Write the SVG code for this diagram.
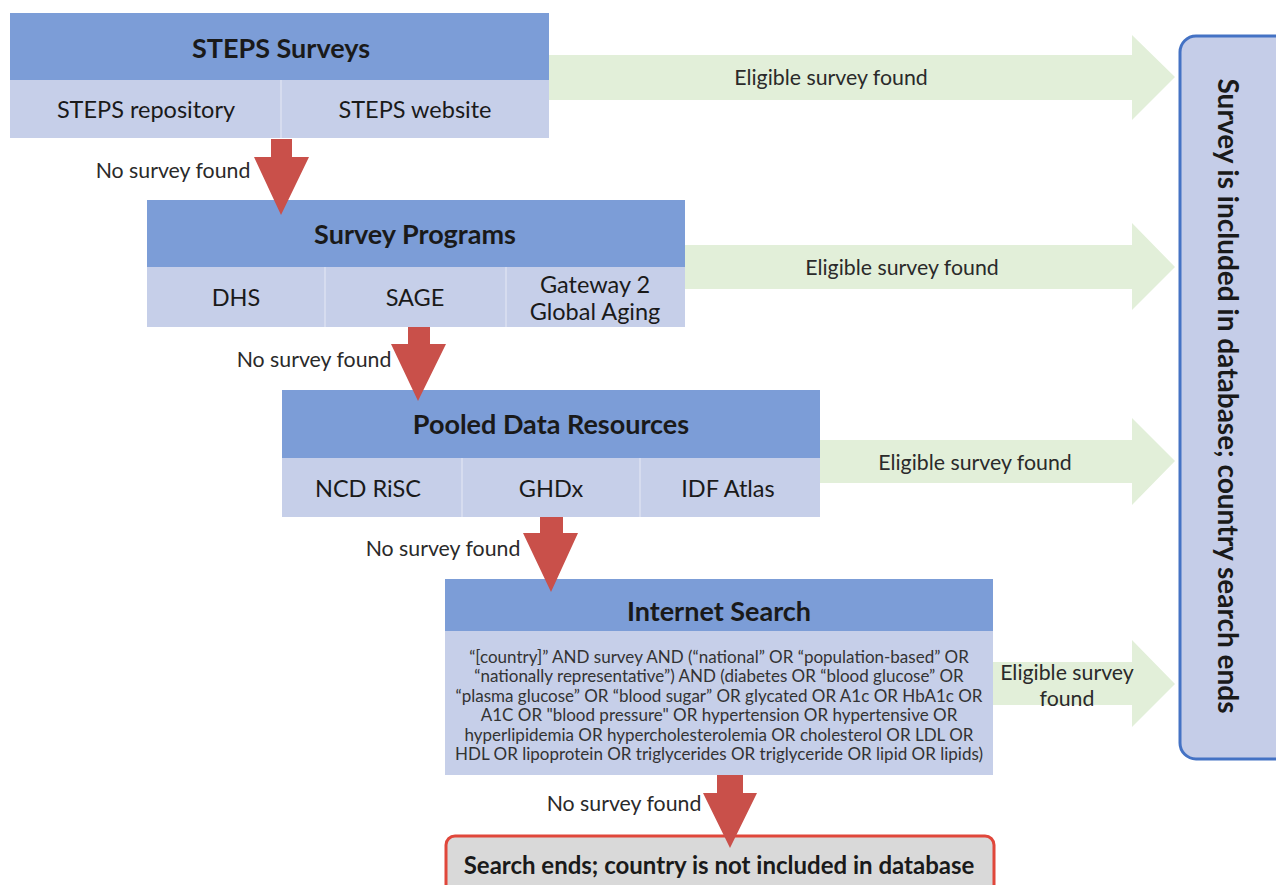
<svg xmlns="http://www.w3.org/2000/svg" width="1276" height="885" viewBox="0 0 1276 885">
<style>
.hdr{fill:#7c9dd7}
.sub{fill:#c6cfe9}
.div{stroke:#d6dcef;stroke-width:2}
.green{fill:#e2efd9}
.red{fill:#c9504a}
text{font-family:Lato,"Liberation Sans",sans-serif;fill:#1a1a1a;text-anchor:middle;dominant-baseline:central}
.ht{font-size:27px;font-weight:bold}
.st{font-size:23.5px}
.lbl{font-size:21.3px;fill:#2a2a2a}
.body{font-size:17px;fill:#333}
.end{font-size:24px;font-weight:bold}
.incl{font-size:28px;font-weight:bold}
</style>
<rect width="1276" height="885" fill="#ffffff"/>
<g id="steps-surveys">
<rect class="hdr" x="10" y="13" width="539" height="67"/>
<rect class="sub" x="10" y="80" width="539" height="58"/>
<line class="div" x1="281" y1="80" x2="281" y2="138"/>
<text class="ht" x="281" y="47">STEPS Surveys</text>
<text class="st" x="146" y="109">STEPS repository</text>
<text class="st" x="415" y="109">STEPS website</text>
</g>
<g id="survey-programs">
<rect class="hdr" x="147" y="200" width="538" height="67"/>
<rect class="sub" x="147" y="267" width="538" height="60"/>
<line class="div" x1="325" y1="267" x2="325" y2="327"/>
<line class="div" x1="506" y1="267" x2="506" y2="327"/>
<text class="ht" x="415" y="233">Survey Programs</text>
<text class="st" x="236" y="297">DHS</text>
<text class="st" x="415" y="297">SAGE</text>
<text class="st" x="595" y="284">Gateway 2</text>
<text class="st" x="595" y="311">Global Aging</text>
</g>
<g id="pooled-data">
<rect class="hdr" x="282" y="390" width="538" height="68"/>
<rect class="sub" x="282" y="458" width="538" height="59"/>
<line class="div" x1="462" y1="458" x2="462" y2="517"/>
<line class="div" x1="640" y1="458" x2="640" y2="517"/>
<text class="ht" x="551" y="423">Pooled Data Resources</text>
<text class="st" x="368" y="488">NCD RiSC</text>
<text class="st" x="551" y="488">GHDx</text>
<text class="st" x="728" y="488">IDF Atlas</text>
</g>
<g id="internet-search">
<rect class="hdr" x="445" y="579" width="548" height="52"/>
<rect class="sub" x="445" y="631" width="548" height="144"/>
<text class="ht" x="719" y="610">Internet Search</text>
<text class="body" x="719" y="656">“[country]” AND survey AND (“national” OR “population-based” OR</text>
<text class="body" x="719" y="675">“nationally representative”) AND (diabetes OR “blood glucose” OR</text>
<text class="body" x="719" y="695">“plasma glucose” OR “blood sugar” OR glycated OR A1c OR HbA1c OR</text>
<text class="body" x="719" y="714">A1C OR "blood pressure" OR hypertension OR hypertensive OR</text>
<text class="body" x="719" y="734">hyperlipidemia OR hypercholesterolemia OR cholesterol OR LDL OR</text>
<text class="body" x="719" y="753">HDL OR lipoprotein OR triglycerides OR triglyceride OR lipid OR lipids)</text>
</g>
<g id="search-ends">
<rect x="446" y="836" width="548" height="70" rx="9" fill="#d9d9d9" stroke="#e0473b" stroke-width="3"/>
<text class="end" x="719" y="864">Search ends; country is not included in database</text>
</g>
<g id="included">
<rect x="1180" y="36" width="120" height="723" rx="16" fill="#c5cde8" stroke="#4472c4" stroke-width="3"/>
<text class="incl" transform="translate(1229,396) rotate(90)">Survey is included in database; country search ends</text>
</g>
<g id="connectors">
<polygon class="green" points="549,55 1132,55 1132,35 1175,77 1132,120 1132,100 549,100"/>
<text class="lbl" x="831" y="77">Eligible survey found</text>
<polygon class="green" points="685,245 1132,245 1132,223 1175,267 1132,310 1132,289 685,289"/>
<text class="lbl" x="902" y="267">Eligible survey found</text>
<polygon class="green" points="820,440 1132,440 1132,418 1175,461 1132,505 1132,483 820,483"/>
<text class="lbl" x="975" y="462">Eligible survey found</text>
<polygon class="green" points="993,662 1132,662 1132,640 1175,684 1132,727 1132,705 993,705"/>
<text class="lbl" x="1067" y="672">Eligible survey</text>
<text class="lbl" x="1067" y="698">found</text>
<polygon class="red" points="271,139 292,139 292,157 309,157 281,215 254,157 271,157"/>
<text class="lbl" x="173" y="170">No survey found</text>
<polygon class="red" points="408,327 430,327 430,344 446,344 418,401 391,344 408,344"/>
<text class="lbl" x="314" y="359">No survey found</text>
<polygon class="red" points="540,517 563,517 563,533 578,533 551,592 523,533 540,533"/>
<text class="lbl" x="443" y="548">No survey found</text>
<polygon class="red" points="717,775 743,775 743,793 757,793 730,848 703,793 717,793"/>
<text class="lbl" x="624" y="803">No survey found</text>
</g>
</svg>
